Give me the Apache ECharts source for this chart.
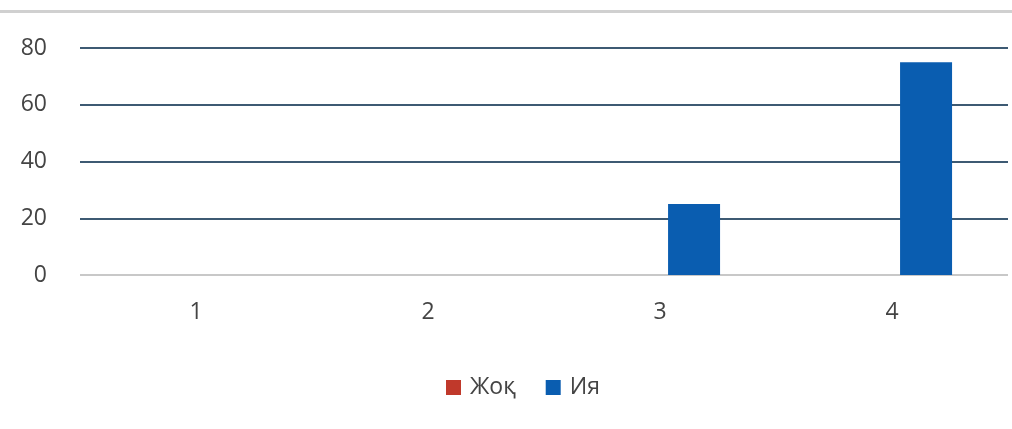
<!DOCTYPE html>
<html><head><meta charset="utf-8">
<script src="https://cdn.jsdelivr.net/npm/echarts@6/dist/echarts.min.js"></script>
<style>html,body{margin:0;padding:0;background:#fff}#c{width:1012px;height:429px}</style>
</head><body><div id="c"></div>
<script>
const categories = ['1', '2', '3', '4'];
const seriesNames = ['Жоқ', 'Ия'];
const valuesJoq = [0, 0, 0, 0];
const valuesIya = [0, 0, 25, 75];
const yTicks = { min: 0, max: 80, interval: 20 };

const chart = echarts.init(document.getElementById('c'));
const font = "'Open Sans', 'DejaVu Sans', sans-serif";
chart.setOption({
  animation: false,
  backgroundColor: '#fff',
  graphic: [{ type: 'rect', shape: { x: 0, y: 10, width: 1012, height: 3 }, style: { fill: '#d0d0d0' } }],
  grid: { left: 80, right: 4, top: 48, bottom: 154 },
  legend: {
    top: 371, left: 441,
    itemWidth: 15, itemHeight: 15, itemGap: 30,
    icon: 'rect',
    textStyle: { fontFamily: font, fontSize: 23, color: '#444444', padding: [0, 0, 0, 4] },
    data: seriesNames
  },
  xAxis: {
    type: 'category', data: categories,
    axisLine: { show: false }, axisTick: { show: false },
    axisLabel: { fontFamily: font, fontSize: 23, color: '#444444', margin: 26 }
  },
  yAxis: {
    type: 'value', min: yTicks.min, max: yTicks.max, interval: yTicks.interval,
    axisLine: { show: false }, axisTick: { show: false },
    axisLabel: { fontFamily: font, fontSize: 23, color: '#444444', margin: 33 },
    splitLine: { lineStyle: { color: ['#c8c8c8', '#3d5a73', '#3d5a73', '#3d5a73', '#3d5a73'], width: 2 } }
  },
  series: [
    { name: seriesNames[0], type: 'bar', data: valuesJoq, barWidth: 52, barGap: '31%', itemStyle: { color: '#c0392b' } },
    { name: seriesNames[1], type: 'bar', data: valuesIya, barWidth: 52, barGap: '31%', itemStyle: { color: '#0a5db0' } }
  ]
});
</script></body></html>
